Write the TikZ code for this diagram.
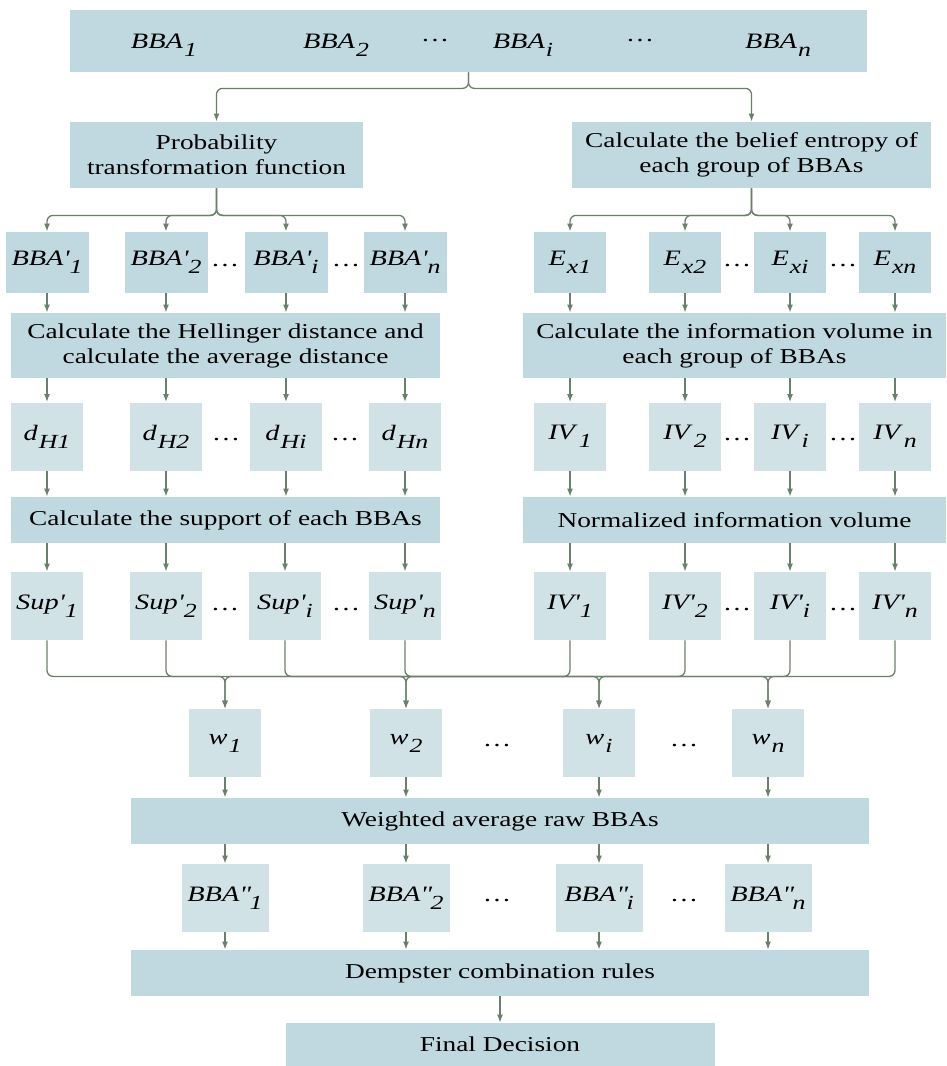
\documentclass[tikz,border=0pt]{standalone}
\usepackage{fontspec}
\setmainfont{Liberation Serif}[FakeStretch=1.29]
\usetikzlibrary{arrows.meta}
\definecolor{boxdark}{RGB}{192,217,224}
\definecolor{boxlight}{RGB}{209,226,231}
\definecolor{linegreen}{RGB}{107,128,107}
\newcommand{\lbl}[2]{\textit{#1}\kern0.5pt\raisebox{-0.8ex}{\fontsize{10}{10}\selectfont\textit{#2}}}
\begin{document}
\begin{tikzpicture}[x=0.5pt,y=-0.5pt,>={Latex[length=4pt,width=3pt]},
  every node/.style={font=\fontsize{10.6}{12.5}\selectfont,inner sep=0pt},
  dark/.style={fill=boxdark,align=center},
  light/.style={fill=boxlight,align=center},
  small/.style={minimum width=36pt,minimum height=34pt},
  lab/.style={font=\fontsize{11}{12}\selectfont},
  link/.style={draw=linegreen,line width=0.65pt,->},
  tree/.style={link,rounded corners=3pt}]
 \useasboundingbox (0,0) rectangle (947,1066);
 \node[dark,minimum width=398.5pt,minimum height=31pt] (bbas) at (468.5,41) {};
 \node[lab] (t1) at (164,45) {\lbl{BBA}{1}};
 \node[lab] (t2) at (336,45) {\lbl{BBA}{2}};
 \node[lab] (tdots1) at (435,41) {\dots};
 \node[lab] (ti) at (523,45) {\lbl{BBA}{i}};
 \node[lab] (tdots2) at (640,41) {\dots};
 \node[lab] (tn) at (778,45) {\lbl{BBA}{n}};
 \node[dark,minimum width=146.5pt,minimum height=33pt] (prob) at (216.5,155)
  {Probability\\transformation function};
 \node[dark,minimum width=179.5pt,minimum height=33pt] (entropy) at (751.5,155)
  {Calculate the belief entropy of\\each group of BBAs};
 \node[dark,lab,minimum width=41.5pt,minimum height=30.5pt] (p1) at (47,262.5) {\lbl{BBA\textquotesingle}{1}};
 \node[dark,lab,minimum width=41.5pt,minimum height=30.5pt] (p2) at (166,262.5) {\lbl{BBA\textquotesingle}{2}};
 \node[dark,lab,minimum width=41.5pt,minimum height=30.5pt] (pi) at (286,262.5) {\lbl{BBA\textquotesingle}{i}};
 \node[dark,lab,minimum width=41.5pt,minimum height=30.5pt] (pn) at (405,262.5) {\lbl{BBA\textquotesingle}{n}};
 \node[lab] (pdots1) at (225,266) {\dots};
 \node[lab] (pdots2) at (346,266) {\dots};
 \node[dark,lab,minimum width=36pt,minimum height=30.5pt] (e1) at (570,262.5) {\lbl{E}{x1}};
 \node[dark,lab,minimum width=36pt,minimum height=30.5pt] (e2) at (685,262.5) {\lbl{E}{x2}};
 \node[dark,lab,minimum width=36pt,minimum height=30.5pt] (ei) at (790,262.5) {\lbl{E}{xi}};
 \node[dark,lab,minimum width=36pt,minimum height=30.5pt] (en) at (895,262.5) {\lbl{E}{xn}};
 \node[lab] (edots1) at (737,266) {\dots};
 \node[lab] (edots2) at (843,266) {\dots};
 \node[dark,minimum width=214.5pt,minimum height=32.5pt] (hell) at (225.5,345.5)
  {Calculate the Hellinger distance and\\calculate the average distance};
 \node[dark,minimum width=211.5pt,minimum height=32.5pt] (info) at (734.5,345.5)
  {Calculate the information volume in\\each group of BBAs};
 \node[light,lab,small] (d1) at (47,436.5) {\lbl{d}{H1}};
 \node[light,lab,small] (d2) at (166,436.5) {\lbl{d}{H2}};
 \node[light,lab,small] (di) at (286,436.5) {\lbl{d}{Hi}};
 \node[light,lab,small] (dn) at (405,436.5) {\lbl{d}{Hn}};
 \node[lab] (ddots1) at (226,440) {\dots};
 \node[lab] (ddots2) at (345,440) {\dots};
 \node[light,lab,small] (v1) at (570,436.5) {\lbl{IV}{1}};
 \node[light,lab,small] (v2) at (685,436.5) {\lbl{IV}{2}};
 \node[light,lab,small] (vi) at (790,436.5) {\lbl{IV}{i}};
 \node[light,lab,small] (vn) at (895,436.5) {\lbl{IV}{n}};
 \node[lab] (vdots1) at (737,440) {\dots};
 \node[lab] (vdots2) at (843,440) {\dots};
 \node[dark,minimum width=214.5pt,minimum height=23pt] (supp) at (225.5,520)
  {Calculate the support of each BBAs};
 \node[dark,minimum width=211.5pt,minimum height=23pt] (norm) at (734.5,520)
  {Normalized information volume};
 \node[light,lab,small] (s1) at (47,606) {\lbl{Sup\textquotesingle}{1}};
 \node[light,lab,small] (s2) at (166,606) {\lbl{Sup\textquotesingle}{2}};
 \node[light,lab,small] (si) at (285,606) {\lbl{Sup\textquotesingle}{i}};
 \node[light,lab,small] (sn) at (405,606) {\lbl{Sup\textquotesingle}{n}};
 \node[lab] (sdots1) at (225,610) {\dots};
 \node[lab] (sdots2) at (346,610) {\dots};
 \node[light,lab,small] (n1) at (570,606) {\lbl{IV\textquotesingle}{1}};
 \node[light,lab,small] (n2) at (685,606) {\lbl{IV\textquotesingle}{2}};
 \node[light,lab,small] (ni) at (790,606) {\lbl{IV\textquotesingle}{i}};
 \node[light,lab,small] (nn) at (895,606) {\lbl{IV\textquotesingle}{n}};
 \node[lab] (ndots1) at (737,610) {\dots};
 \node[lab] (ndots2) at (843,610) {\dots};
 \node[light,lab,small] (w1) at (225,743) {\lbl{w}{1}};
 \node[light,lab,small] (w2) at (406,743) {\lbl{w}{2}};
 \node[light,lab,small] (wi) at (599,743) {\lbl{w}{i}};
 \node[light,lab,small] (wn) at (768,743) {\lbl{w}{n}};
 \node[lab] (wdots1) at (497,746) {\dots};
 \node[lab] (wdots2) at (684,746) {\dots};
 \node[dark,minimum width=369pt,minimum height=23pt] (wavg) at (500,821)
  {Weighted average raw BBAs};
 \node[light,lab,small,minimum width=43.5pt] (q1) at (225,898) {\lbl{BBA\textquotedbl}{1}};
 \node[light,lab,small,minimum width=43.5pt] (q2) at (406,898) {\lbl{BBA\textquotedbl}{2}};
 \node[light,lab,small,minimum width=43.5pt] (qi) at (599,898) {\lbl{BBA\textquotedbl}{i}};
 \node[light,lab,small,minimum width=43.5pt] (qn) at (768,898) {\lbl{BBA\textquotedbl}{n}};
 \node[lab] (qdots1) at (497,901) {\dots};
 \node[lab] (qdots2) at (684,901) {\dots};
 \node[dark,minimum width=369pt,minimum height=23pt] (dem) at (500,973)
  {Dempster combination rules};
 \node[dark,minimum width=214.5pt,minimum height=21.5pt] (final) at (500,1044.5)
  {Final Decision};
 \draw[tree] (bbas.south) -- ++(0,16) -| (prob.north);
 \draw[tree] (bbas.south) -- ++(0,16) -| (entropy.north);
 \draw[tree] (prob.south) -- ++(0,27) -| (p1.north);
 \draw[tree] (prob.south) -- ++(0,27) -| (p2.north);
 \draw[tree] (prob.south) -- ++(0,27) -| (pi.north);
 \draw[tree] (prob.south) -- ++(0,27) -| (pn.north);
 \draw[tree] (entropy.south) -- ++(0,27) -| (e1.north);
 \draw[tree] (entropy.south) -- ++(0,27) -| (e2.north);
 \draw[tree] (entropy.south) -- ++(0,27) -| (ei.north);
 \draw[tree] (entropy.south) -- ++(0,27) -| (en.north);
 \draw[link] (p1.south) -- (p1.south |- hell.north);
 \draw[link] (p2.south) -- (p2.south |- hell.north);
 \draw[link] (pi.south) -- (pi.south |- hell.north);
 \draw[link] (pn.south) -- (pn.south |- hell.north);
 \draw[link] (e1.south) -- (e1.south |- info.north);
 \draw[link] (e2.south) -- (e2.south |- info.north);
 \draw[link] (ei.south) -- (ei.south |- info.north);
 \draw[link] (en.south) -- (en.south |- info.north);
 \draw[link] (hell.south -| d1) -- (d1.north);
 \draw[link] (hell.south -| d2) -- (d2.north);
 \draw[link] (hell.south -| di) -- (di.north);
 \draw[link] (hell.south -| dn) -- (dn.north);
 \draw[link] (info.south -| v1) -- (v1.north);
 \draw[link] (info.south -| v2) -- (v2.north);
 \draw[link] (info.south -| vi) -- (vi.north);
 \draw[link] (info.south -| vn) -- (vn.north);
 \draw[link] (d1.south) -- (d1.south |- supp.north);
 \draw[link] (d2.south) -- (d2.south |- supp.north);
 \draw[link] (di.south) -- (di.south |- supp.north);
 \draw[link] (dn.south) -- (dn.south |- supp.north);
 \draw[link] (v1.south) -- (v1.south |- norm.north);
 \draw[link] (v2.south) -- (v2.south |- norm.north);
 \draw[link] (vi.south) -- (vi.south |- norm.north);
 \draw[link] (vn.south) -- (vn.south |- norm.north);
 \draw[link] (supp.south -| s1) -- (s1.north);
 \draw[link] (supp.south -| s2) -- (s2.north);
 \draw[link] (supp.south -| si) -- (si.north);
 \draw[link] (supp.south -| sn) -- (sn.north);
 \draw[link] (norm.south -| n1) -- (n1.north);
 \draw[link] (norm.south -| n2) -- (n2.north);
 \draw[link] (norm.south -| ni) -- (ni.north);
 \draw[link] (norm.south -| nn) -- (nn.north);
 \draw[tree] (s1.south) -- ++(0,36) -| (w1.north);
 \draw[tree] (s2.south) -- ++(0,36) -| (w2.north);
 \draw[tree] (si.south) -- ++(0,36) -| (wi.north);
 \draw[tree] (sn.south) -- ++(0,36) -| (wn.north);
 \draw[tree] (n1.south) -- ++(0,36) -| (w1.north);
 \draw[tree] (n2.south) -- ++(0,36) -| (w2.north);
 \draw[tree] (ni.south) -- ++(0,36) -| (wi.north);
 \draw[tree] (nn.south) -- ++(0,36) -| (wn.north);
 \draw[link] (w1.south) -- (w1.south |- wavg.north);
 \draw[link] (w2.south) -- (w2.south |- wavg.north);
 \draw[link] (wi.south) -- (wi.south |- wavg.north);
 \draw[link] (wn.south) -- (wn.south |- wavg.north);
 \draw[link] (wavg.south -| q1) -- (q1.north);
 \draw[link] (wavg.south -| q2) -- (q2.north);
 \draw[link] (wavg.south -| qi) -- (qi.north);
 \draw[link] (wavg.south -| qn) -- (qn.north);
 \draw[link] (q1.south) -- (q1.south |- dem.north);
 \draw[link] (q2.south) -- (q2.south |- dem.north);
 \draw[link] (qi.south) -- (qi.south |- dem.north);
 \draw[link] (qn.south) -- (qn.south |- dem.north);
 \draw[link] (dem.south) -- (final.north);
\end{tikzpicture}
\end{document}
